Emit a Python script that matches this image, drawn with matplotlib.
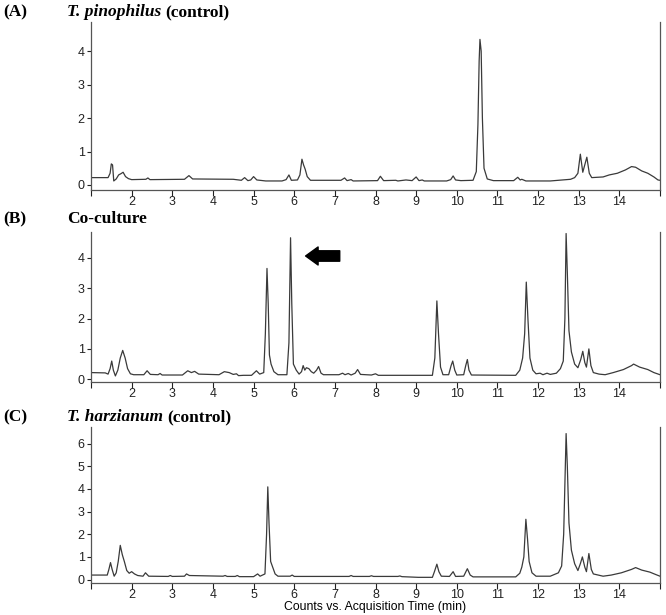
import matplotlib
matplotlib.use("Agg")
import matplotlib.pyplot as plt

# ---------------- data ----------------
a_time = [1.00, 1.42, 1.47, 1.50, 1.53, 1.56, 1.62, 1.68, 1.74, 1.79, 1.85, 1.92, 2.00, 2.35, 2.40, 2.45,
          3.30, 3.41, 3.50, 4.50, 4.70, 4.78, 4.86, 4.93, 5.00, 5.08, 5.30, 5.70, 5.80, 5.87, 5.93,
          6.08, 6.14, 6.19, 6.23, 6.27, 6.32, 6.40, 7.15, 7.24, 7.30, 7.40, 7.45, 8.05, 8.12, 8.20,
          8.50, 8.55, 8.75, 8.90, 9.00, 9.07, 9.15, 9.20, 9.75, 9.85, 9.91, 9.97, 10.10, 10.40,
          10.48, 10.52, 10.55, 10.57, 10.60, 10.63, 10.67, 10.75, 10.90, 11.40, 11.50, 11.56, 11.60,
          11.70, 12.30, 12.60, 12.80, 12.90, 12.98, 13.04, 13.10, 13.20, 13.26, 13.32, 13.60, 13.75,
          13.95, 14.15, 14.30, 14.40, 14.55, 14.70, 14.85, 14.95, 15.00]
a_signal = [0.22, 0.22, 0.35, 0.63, 0.60, 0.12, 0.18, 0.30, 0.34, 0.38, 0.25, 0.19, 0.16, 0.17, 0.21, 0.16,
            0.17, 0.28, 0.18, 0.17, 0.14, 0.22, 0.13, 0.15, 0.25, 0.15, 0.12, 0.12, 0.16, 0.30, 0.14,
            0.15, 0.30, 0.77, 0.60, 0.47, 0.25, 0.14, 0.14, 0.21, 0.13, 0.16, 0.12, 0.13, 0.26, 0.13,
            0.14, 0.12, 0.15, 0.13, 0.24, 0.13, 0.15, 0.12, 0.12, 0.16, 0.27, 0.15, 0.13, 0.14,
            0.40, 1.80, 3.70, 4.35, 4.00, 2.00, 0.50, 0.18, 0.13, 0.13, 0.23, 0.15, 0.17,
            0.12, 0.12, 0.15, 0.17, 0.22, 0.35, 0.92, 0.38, 0.83, 0.35, 0.22, 0.24, 0.30,
            0.35, 0.45, 0.55, 0.53, 0.42, 0.35, 0.24, 0.15, 0.14]

b_time = [1.00, 1.35, 1.42, 1.47, 1.51, 1.55, 1.60, 1.66, 1.72, 1.78, 1.84, 1.90, 1.97, 2.05, 2.30, 2.38,
          2.46, 2.65, 2.70, 2.75, 3.25, 3.38, 3.47, 3.55, 3.65, 4.15, 4.28, 4.40, 4.50, 4.58, 4.63,
          4.75, 4.95, 5.07, 5.15, 5.25, 5.29, 5.33, 5.36, 5.39, 5.43, 5.50, 5.60, 5.82, 5.87, 5.91,
          5.94, 5.98, 6.05, 6.12, 6.18, 6.22, 6.26, 6.30, 6.36, 6.42, 6.48, 6.55, 6.60, 6.66, 6.72,
          7.10, 7.19, 7.25, 7.33, 7.40, 7.50, 7.56, 7.63, 7.90, 8.00, 8.07, 9.40, 9.46, 9.51, 9.55,
          9.60, 9.66, 9.80, 9.86, 9.90, 9.95, 10.00, 10.17, 10.22, 10.26, 10.30, 10.36, 11.45, 11.55,
          11.62, 11.67, 11.71, 11.75, 11.80, 11.87, 11.95, 12.05, 12.12, 12.22, 12.30, 12.45, 12.55,
          12.62, 12.66, 12.69, 12.72, 12.76, 12.82, 12.90, 12.98, 13.05, 13.10, 13.15, 13.19, 13.25,
          13.30, 13.36, 13.50, 13.65, 13.85, 14.10, 14.30, 14.35, 14.50, 14.70, 14.85, 15.00]
b_signal = [0.22, 0.21, 0.17, 0.35, 0.60, 0.30, 0.11, 0.30, 0.70, 0.95, 0.70, 0.35, 0.18, 0.15, 0.15, 0.28,
            0.16, 0.15, 0.19, 0.14, 0.14, 0.28, 0.22, 0.26, 0.17, 0.15, 0.25, 0.22, 0.16, 0.18, 0.12,
            0.13, 0.13, 0.28, 0.17, 0.22, 1.50, 3.65, 2.50, 0.80, 0.50, 0.25, 0.15, 0.15, 1.20, 4.66,
            2.50, 0.50, 0.30, 0.17, 0.25, 0.45, 0.30, 0.38, 0.35, 0.25, 0.20, 0.30, 0.42, 0.20, 0.15,
            0.15, 0.20, 0.15, 0.19, 0.14, 0.20, 0.32, 0.16, 0.14, 0.18, 0.13, 0.13, 0.70, 2.58, 1.50,
            0.40, 0.15, 0.15, 0.45, 0.60, 0.30, 0.14, 0.15, 0.45, 0.65, 0.30, 0.14, 0.13, 0.30,
            0.70, 1.50, 3.20, 2.00, 0.70, 0.30, 0.18, 0.20, 0.15, 0.20, 0.16, 0.20, 0.35,
            0.60, 2.00, 4.80, 3.50, 1.60, 0.90, 0.50, 0.38, 0.65, 0.92, 0.55, 0.40, 1.00,
            0.45, 0.22, 0.17, 0.15, 0.22, 0.32, 0.45, 0.50, 0.40, 0.32, 0.22, 0.15]

c_time = [1.00, 1.40, 1.44, 1.48, 1.52, 1.57, 1.62, 1.67, 1.72, 1.77, 1.82, 1.88, 1.94, 2.00, 2.07, 2.15,
          2.28, 2.34, 2.42, 2.90, 2.95, 3.00, 3.30, 3.35, 3.42, 4.25, 4.30, 4.35, 4.55, 4.60, 4.65,
          5.00, 5.10, 5.16, 5.28, 5.32, 5.35, 5.38, 5.42, 5.46, 5.53, 5.60, 5.90, 5.95, 6.00, 7.35,
          7.40, 7.45, 7.85, 7.90, 7.95, 8.55, 8.60, 8.65, 9.05, 9.40, 9.45, 9.51, 9.56, 9.62, 9.82,
          9.91, 9.97, 10.17, 10.26, 10.33, 10.40, 11.45, 11.55, 11.60, 11.65, 11.70, 11.74, 11.78,
          11.85, 11.95, 12.30, 12.50, 12.58, 12.63, 12.69, 12.72, 12.76, 12.82, 12.90, 12.98, 13.04,
          13.09, 13.15, 13.19, 13.25, 13.31, 13.36, 13.60, 13.80, 14.05, 14.30, 14.40, 14.55, 14.75,
          14.90, 15.00]
c_signal = [0.20, 0.20, 0.45, 0.75, 0.45, 0.15, 0.30, 0.80, 1.51, 1.10, 0.80, 0.40, 0.28, 0.35, 0.25, 0.18,
            0.15, 0.30, 0.15, 0.14, 0.18, 0.14, 0.15, 0.25, 0.18, 0.15, 0.18, 0.14, 0.14, 0.18, 0.13,
            0.13, 0.25, 0.15, 0.25, 2.00, 4.09, 2.50, 0.80, 0.60, 0.25, 0.15, 0.15, 0.20, 0.14, 0.14,
            0.18, 0.14, 0.14, 0.17, 0.14, 0.14, 0.16, 0.13, 0.10, 0.10, 0.35, 0.68, 0.35, 0.15, 0.14,
            0.35, 0.14, 0.15, 0.48, 0.20, 0.12, 0.12, 0.28, 0.55, 1.00, 2.66, 1.80, 0.80,
            0.30, 0.15, 0.15, 0.30, 0.60, 2.00, 6.44, 5.00, 2.50, 1.30, 0.70, 0.40, 0.70,
            1.00, 0.55, 0.35, 1.15, 0.45, 0.25, 0.15, 0.20, 0.30, 0.45, 0.53, 0.42, 0.33,
            0.22, 0.15]

panel_letters = ["(A)", "(B)", "(C)"]
panel_names = ["T. pinophilus", "Co-culture", "T. harzianum"]
panel_suffix = ["(control)", "", "(control)"]
x_ticks = [1, 2, 3, 4, 5, 6, 7, 8, 9, 10, 11, 12, 13, 14, 15]
x_tick_labels = ["", "2", "3", "4", "5", "6", "7", "8", "9", "10", "11", "12", "13", "14", ""]
yticks_a = [0, 1, 2, 3, 4]
yticks_b = [0, 1, 2, 3, 4]
yticks_c = [0, 1, 2, 3, 4, 5, 6]
x_label = "Counts vs. Acquisition Time (min)"
arrow_tip = (6.28, 4.06)
arrow_tail = (7.12, 4.06)

# ---------------- figure ----------------
W, H = 666, 615
fig = plt.figure(figsize=(W / 100, H / 100), dpi=100)

sans = ["Liberation Sans", "DejaVu Sans"]
serif = ["Liberation Serif", "DejaVu Serif"]
line_color = "#3a3a3a"
tick_fs = 9
title_fs = 12.5


def px_axes(left, top, right, bottom):
    return fig.add_axes([left / W, 1 - bottom / H, (right - left) / W, (bottom - top) / H])


panels = [
    dict(t=a_time, s=a_signal, yt=yticks_a, ylim=(-0.15, 4.87), box=(91, 22, 660, 190)),
    dict(t=b_time, s=b_signal, yt=yticks_b, ylim=(-0.09, 4.85), box=(91, 232, 660, 382)),
    dict(t=c_time, s=c_signal, yt=yticks_c, ylim=(-0.15, 6.73), box=(91, 427, 660, 583)),
]

axes = []
for p in panels:
    ax = px_axes(*p["box"])
    ax.plot(p["t"], p["s"], color=line_color, lw=0.9, solid_joinstyle="round")
    ax.set_xlim(1, 15)
    ax.set_ylim(*p["ylim"])
    ax.set_xticks(x_ticks)
    ax.set_xticklabels(x_tick_labels, fontfamily=sans, fontsize=tick_fs)
    ax.set_yticks(p["yt"])
    ax.set_yticklabels([str(v) for v in p["yt"]], fontfamily=sans, fontsize=tick_fs)
    ax.tick_params(axis="x", direction="out", length=4, width=0.8, pad=0.5, colors="#222222")
    ax.tick_params(axis="y", direction="out", length=3, width=0.8, pad=1.5, colors="#222222")
    ax.spines["top"].set_visible(False)
    for side in ("left", "right", "bottom"):
        ax.spines[side].set_color("#555555")
        ax.spines[side].set_linewidth(0.9)
    axes.append(ax)

# panel titles
renderer = fig.canvas.get_renderer()
title_y = [12, 219, 417]
for letter, name, suffix, ty in zip(panel_letters, panel_names, panel_suffix, title_y):
    yf = 1 - ty / H
    fig.text(3 / W, yf, letter, fontfamily=serif, fontweight="bold",
             fontsize=title_fs, va="center", ha="left")
    italic = suffix != ""
    t = fig.text(67 / W, yf, name, fontfamily=serif, fontweight="bold",
                 fontstyle="italic" if italic else "normal", fontsize=title_fs,
                 va="center", ha="left")
    if suffix:
        bb = t.get_window_extent(renderer=renderer)
        fig.text((bb.x1 + 4) / W, yf, suffix, fontfamily=serif, fontweight="bold",
                 fontsize=title_fs, va="center", ha="left")

# arrow in panel B
axes[1].annotate("", xy=arrow_tip, xytext=arrow_tail,
                 arrowprops=dict(arrowstyle="simple,head_length=0.9,head_width=1.3,tail_width=0.75",
                                 fc="black", ec="black", shrinkA=0, shrinkB=0))

# x-axis label
fig.text(375 / W, 1 - 607 / H, x_label, fontfamily=sans, fontsize=8.8, ha="center", va="center")

fig.savefig("out.png", dpi=100)
